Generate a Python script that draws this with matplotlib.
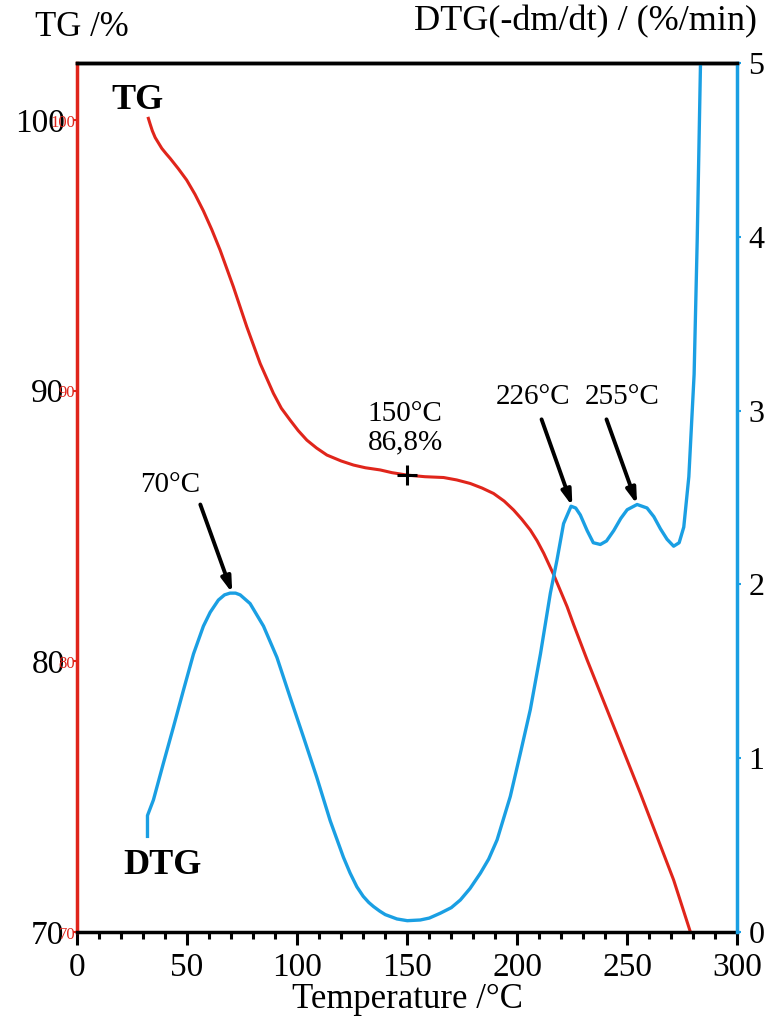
import matplotlib.pyplot as plt
import numpy as np

plt.rcParams['font.family'] = ['Liberation Serif', 'DejaVu Serif']

# TG curve (temperature in C, mass %)
tg_temp = [32.4, 33.2, 34.2, 35.5, 37, 38.5, 40.5, 42.3, 46, 49.8, 53.6, 57.4, 61.2, 65, 71,
           77.1, 83.2, 89.2, 92.8, 96.8, 100.5, 104.4, 108.8, 113.5, 120, 125.6, 131, 137.7,
           143, 149.9, 158, 166.5, 172.5, 178.6, 184, 189.2, 194, 198.3, 202, 205.9, 209,
           212, 216.5, 222.6, 225.6, 231.7, 240.8, 255.9, 271, 278.6]
tg_mass = [100.06, 99.85, 99.6, 99.35, 99.15, 98.95, 98.75, 98.58, 98.2, 97.78, 97.25, 96.64,
           95.95, 95.19, 93.84, 92.36, 91.0, 89.9, 89.35, 88.91, 88.52, 88.17, 87.88, 87.62,
           87.4, 87.25, 87.15, 87.07, 86.97, 86.88, 86.82, 86.79, 86.7, 86.57, 86.4, 86.2,
           85.92, 85.59, 85.25, 84.85, 84.45, 83.99, 83.2, 82.02, 81.35, 80.05, 78.2, 75.12,
           71.92, 70.0]

# DTG curve (temperature in C, -dm/dt %/min)
dtg_temp = [32, 32, 34.7, 39.2, 43.8, 48.3, 52.9, 57.4, 60.5, 64.2, 67, 69.5, 72, 74.1, 78.6,
            84.7, 90.8, 96.8, 102.9, 108.9, 115, 121, 124, 127.1, 130, 132.5, 134.7, 137.5,
            140, 145.3, 150, 155.9, 160, 165, 170, 174.1, 178.5, 183.2, 187, 190.8, 196.8,
            201.4, 205.9, 210.5, 215, 218, 221, 224.4, 226.5, 228.6, 231.7, 234.5, 237.7,
            240.5, 243.8, 247, 249.9, 254.4, 258.9, 262, 265, 268, 271, 273.5, 275.6, 277.9,
            280.3, 281.7, 283.2]
dtg_val = [0.55, 0.67, 0.76, 0.97, 1.18, 1.39, 1.60, 1.76, 1.84, 1.91, 1.94, 1.95, 1.95, 1.94,
           1.89, 1.76, 1.58, 1.35, 1.12, 0.89, 0.64, 0.43, 0.34, 0.26, 0.205, 0.17, 0.146,
           0.12, 0.10, 0.075, 0.065, 0.069, 0.08, 0.108, 0.14, 0.184, 0.25, 0.338, 0.42,
           0.53, 0.78, 1.03, 1.28, 1.60, 1.95, 2.14, 2.35, 2.45, 2.44, 2.40, 2.31, 2.24,
           2.23, 2.25, 2.31, 2.38, 2.43, 2.46, 2.44, 2.39, 2.32, 2.26, 2.22, 2.24, 2.33,
           2.62, 3.21, 3.98, 5.0]

x_ticks = [0, 50, 100, 150, 200, 250, 300]
tg_ticks = [70, 80, 90, 100]
dtg_ticks = [0, 1, 2, 3, 4, 5]

red = '#e0251b'
blue = '#1a9fe3'

fig = plt.figure(figsize=(7.75, 10.18), dpi=100)
ax = fig.add_axes([0.0994, 0.0845, 0.8522, 0.8535])
ax2 = ax.twinx()

ax.plot(tg_temp, tg_mass, color=red, lw=2.2, solid_joinstyle='round')
ax2.plot(dtg_temp, dtg_val, color=blue, lw=2.4, solid_joinstyle='round')

ax.set_xlim(0, 300)
ax.set_ylim(70, 102.1)
ax2.set_ylim(0, 5)

ax.set_xticks(x_ticks)
ax.set_xticks(np.arange(0, 301, 10), minor=True)
ax.set_yticks(tg_ticks)
ax2.set_yticks(dtg_ticks)
ax.tick_params(axis='x', which='major', length=9, width=2.2, labelsize=24, pad=6, direction='out')
ax.tick_params(axis='x', which='minor', length=5, width=2.2, direction='out')
ax.tick_params(axis='y', length=3, width=1.5, color=red, labelsize=24, pad=6)
ax2.tick_params(axis='y', length=3, width=1.5, color=blue, labelsize=23, pad=5)

for s in ['top', 'bottom']:
    ax.spines[s].set_linewidth(2.5)
    ax.spines[s].set_color('black')
ax2.spines['top'].set_linewidth(2.5)
ax2.spines['bottom'].set_visible(False)
ax.spines['left'].set_color(red)
ax.spines['left'].set_linewidth(2.5)
ax2.spines['left'].set_visible(False)
ax2.spines['right'].set_color(blue)
ax2.spines['right'].set_linewidth(2.5)
ax.spines['right'].set_visible(False)

# faint red duplicate tick labels seen in the original
for v in tg_ticks:
    ax.text(-0.8, v - 0.1, str(v), color=red, fontsize=12, ha='right', va='center',
            clip_on=False)

fig.text(407 / 775, 1 - 1000 / 1018, 'Temperature /°C', fontsize=25, ha='center', va='center')
fig.text(0.045, 0.9725, 'TG /%', fontsize=25, ha='left', va='center')
fig.text(0.977, 0.9784, 'DTG(-dm/dt) / (%/min)', fontsize=26, ha='right', va='center')

ax.text(27.3, 100.73, 'TG', fontsize=26, fontweight='bold', ha='center', va='center')
ax2.text(39, 0.385, 'DTG', fontsize=26, fontweight='bold', ha='center', va='center')

# marker at 150 C on TG curve
ax.plot([150], [86.88], marker='+', color='black', ms=15, mew=2.2)
ax.text(149, 88.62, '150°C\n86,8%', fontsize=21, ha='center', va='center', linespacing=1.1)

arrow = dict(arrowstyle='-|>,head_length=0.9,head_width=0.28', color='black', lw=2.8,
             shrinkA=0, shrinkB=0)
ax2.text(42.3, 2.57, '70°C', fontsize=21, ha='center', va='center')
ax2.annotate('', xy=(70.5, 1.95), xytext=(56, 2.46), arrowprops=arrow)
ax2.text(207, 3.08, '226°C', fontsize=21, ha='center', va='center')
ax2.annotate('', xy=(225, 2.45), xytext=(211, 2.95), arrowprops=arrow)
ax2.text(247.7, 3.08, '255°C', fontsize=21, ha='center', va='center')
ax2.annotate('', xy=(254.4, 2.46), xytext=(240.5, 2.95), arrowprops=arrow)

fig.savefig('out.png', dpi=100)
